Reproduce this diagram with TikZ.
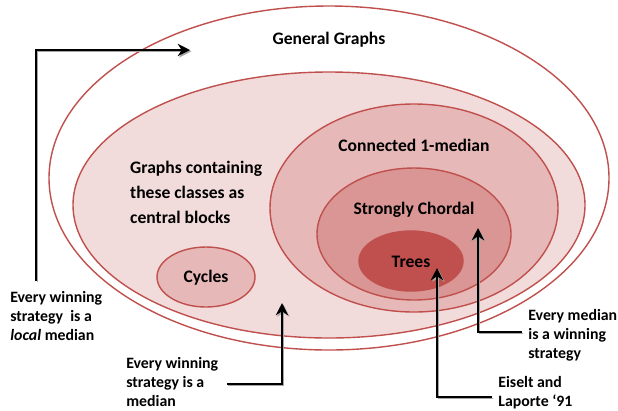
\documentclass[tikz,border=0pt]{standalone}
\usepackage{fontspec}
\setmainfont{Carlito}
\usetikzlibrary{arrows.meta}
\definecolor{bordo}{HTML}{C0504D}
\definecolor{rosa1}{HTML}{F2DCDB}
\definecolor{rosa2}{HTML}{E6B9B8}
\definecolor{rosa3}{HTML}{D99694}
\tikzset{
  classe/.style={draw=bordo, line width=0.8pt},
  titolo/.style={font=\bfseries\fontsize{10}{14.2}\selectfont, align=center},
  nota/.style={font=\bfseries\fontsize{9}{10.8}\selectfont, align=left, anchor=west, inner sep=0pt},
  freccia/.style={line width=1.5pt, -{Stealth[length=7pt, width=7pt]},
    preaction={draw=black!35, transform canvas={shift={(0.8pt,-0.8pt)}}}}
}
\begin{document}
\begin{tikzpicture}[x=0.02cm, y=-0.02cm]
\useasboundingbox (0,0) rectangle (618,410);
% insiemi di grafi
\draw[classe, fill=white] (329,178) ellipse (280 and 172);
\draw[classe, fill=rosa1] (329,205) ellipse (256 and 133);
\draw[classe, fill=rosa2] (414,208) ellipse (144 and 104);
\draw[classe, fill=rosa3] (414,234) ellipse (97 and 66);
\draw[classe, fill=bordo] (411,261) ellipse (52 and 30);
\draw[classe, fill=rosa2] (206,277) ellipse (49 and 30);
% nomi delle classi
\node[titolo] (generali) at (329,40) {General Graphs};
\node[titolo, align=left, anchor=west] (blocchi) at (124,192) {Graphs containing\\these classes as\\central blocks};
\node[titolo] (connessi) at (414,145) {Connected 1-median};
\node[titolo] (cordali) at (414,210) {Strongly Chordal};
\node[titolo] (alberi) at (411,262) {Trees};
\node[titolo] (cicli) at (206,278) {Cycles};
% risultati
\node[nota] (locale) at (10,316) {Every winning\\strategy\ \ is a\\\textit{local} median};
\node[nota] (mediana) at (126,382) {Every winning\\strategy is a\\median};
\node[nota] (vincente) at (528,335) {Every median\\is a winning\\strategy};
\node[nota] (eiselt) at (498,393) {Eiselt and\\Laporte `91};
% punte delle frecce
\coordinate (pLocale) at (190,50);
\coordinate (pMediana) at (282,303);
\coordinate (pVincente) at (478,228);
\coordinate (pAlberi) at (437,268);
\draw[freccia] (36,281) |- (pLocale);
\draw[freccia] (227,384) -| (pMediana);
\draw[freccia] (vincente.west |- 0,332) ++(-6,0) -| (pVincente);
\draw[freccia] (eiselt.west |- 0,397) ++(-6,0) -| (pAlberi);
\end{tikzpicture}
\end{document}
